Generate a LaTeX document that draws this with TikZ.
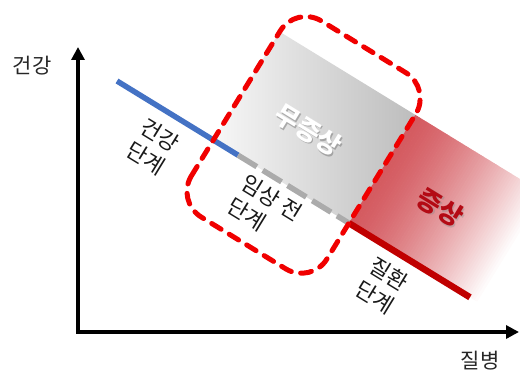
\documentclass[tikz,border=0pt]{standalone}
\usepackage{fontspec}
\setmainfont{Noto Sans CJK KR}
\usepackage{tikz}
\usetikzlibrary{arrows.meta}
\definecolor{healthblue}{RGB}{68,114,196}
\definecolor{diseasered}{RGB}{192,0,0}
\definecolor{framered}{RGB}{240,0,0}
\definecolor{bandred}{RGB}{212,90,96}
\definecolor{symred}{RGB}{180,10,20}

\begin{document}
\begin{tikzpicture}[x=1pt, y=1pt,
		axis/.style={line width=4.5pt, arrows={Triangle[length=13pt,width=13pt]-Triangle[length=13pt,width=13pt]}},
		axislabel/.style={font=\fontsize{21}{25}\selectfont, text=black!85},
		stagetext/.style={font=\fontsize{22}{27}\selectfont, text=black!90, inner sep=0pt},
		bigtext/.style={font=\fontsize{26}{30}\selectfont\bfseries, inner sep=0pt}]
				\useasboundingbox (0,0) rectangle (520,373);
				\clip (0,0) rectangle (520,373);
				% axes
				\coordinate (origin) at (78,41);
				\coordinate (ytip) at (78,326);
				\coordinate (xtip) at (519,41);
				\draw[axis] (ytip) -- (origin) -- (xtip);
				\node[axislabel] (ylab) at (32,307) {건강};
				\node[axislabel] (xlab) at (480,12) {질병};
				% tilted course
				\begin{scope}[shift={(117,292)}, rotate=-31.5, transform shape]
					\shade[left color=black!3, right color=black!26] (113,0) rectangle (272,127);
					% red band fading out
					\foreach \i in {0,...,59}{
						\pgfmathsetmacro{\redpart}{100-100*(\i/60)^1.4}
						\fill[bandred!\redpart] (272+\i*2.5,0) rectangle (275+\i*2.5,127);
					}
					\coordinate (start) at (0,0);
					\coordinate (pre) at (142,0);
					\coordinate (dis) at (272,0);
					\coordinate (end) at (414,0);
					\draw[line width=5.5pt, healthblue] (start) -- (pre);
					\draw[line width=5.5pt, black!33, dash pattern=on 22pt off 7pt] (pre) -- (dis);
					\draw[line width=6.5pt, diseasered] (dis) -- (end);
					\draw[line width=5pt, framered, line cap=round, dash pattern=on 11pt off 9.5pt, rounded corners=30pt] (113,-72) rectangle (272,158);
					\node[stagetext, align=center] (healthy) at (65,-37) {건강\\단계};
					\node[stagetext, align=left] (preclin) at (193,-32) {임상 전\\단계};
					\node[stagetext, align=center] (disease) at (333,-36) {질환\\단계};
					\node[bigtext, text=black!55, opacity=0.5] (nosymshadow) at (190.5,57.5) {무증상};
					\node[bigtext, text=white] (nosym) at (189,58) {무증상};
					\node[bigtext, text=black!45, opacity=0.4] (symshadow) at (343.5,60.5) {증상};
					\node[bigtext, text=symred] (sym) at (342,61) {증상};
				\end{scope}
			\end{tikzpicture}
\end{document}
